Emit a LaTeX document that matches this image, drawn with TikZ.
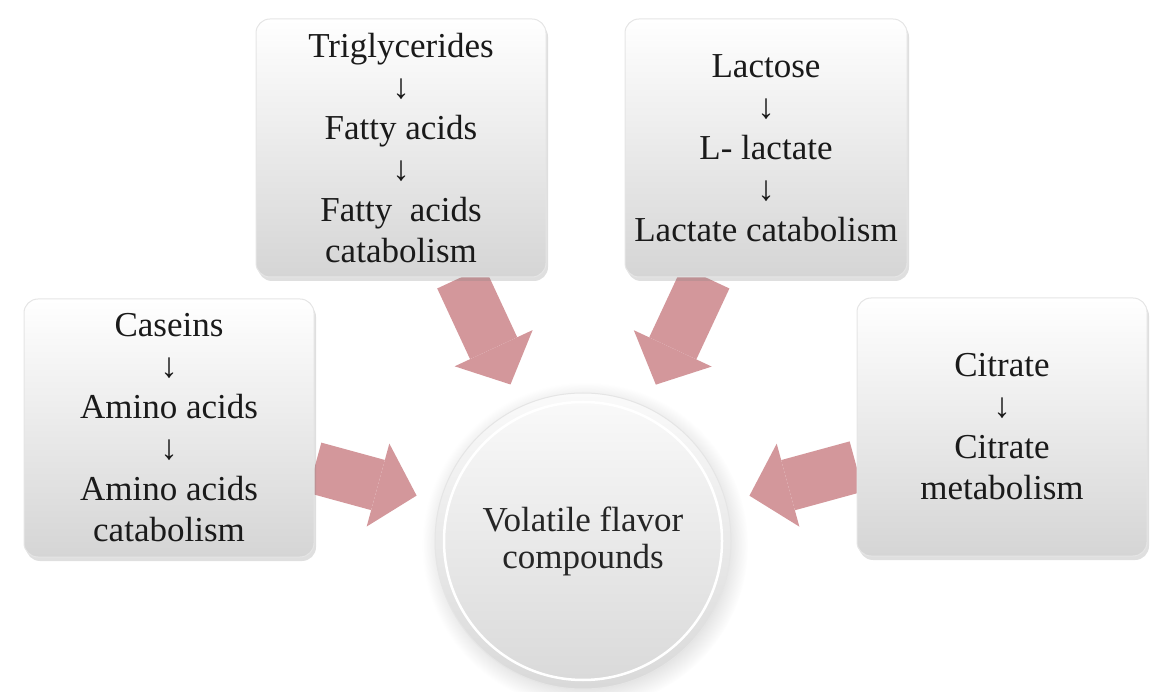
\documentclass[tikz,border=0pt]{standalone}
\usepackage{fontspec}
\setmainfont{Liberation Serif}
\usetikzlibrary{
    arrows.meta,
    positioning,
    shadows,
    backgrounds,
}

\definecolor{rosearrow}{HTML}{D3979B}
\definecolor{boxtext}{HTML}{1A1A1A}
\newcommand{\dn}{{\bfseries ↓}}

\begin{document}
\begin{tikzpicture}[
        x=1pt, y=1pt,
        stepbox/.style={
            rectangle, rounded corners=14pt, draw=gray!20, line width=1pt,
            top color=white, bottom color=gray!33,
            minimum width=290pt, minimum height=258pt,
            align=center, text=boxtext,
            font=\fontsize{35}{41}\selectfont,
            drop shadow={shadow xshift=2pt, shadow yshift=-4pt, opacity=0.25}
        },
        hub/.style={
            circle, draw=gray!20, line width=1pt,
            top color=gray!4, bottom color=gray!30,
            minimum size=296pt, align=center, text=black!85,
            font=\fontsize{35}{37}\selectfont,
            circular drop shadow={shadow xshift=2pt, shadow yshift=-4pt, opacity=0.25},
            path picture={\draw[white, line width=2.5pt]
                (path picture bounding box.center) circle (139pt);}
        },
        fatarrow/.style={
            draw=rosearrow, line width=52pt,
            -{Triangle[width=86pt, length=40pt, line width=0pt]},
            shorten >=24pt
        },
    ]

    \useasboundingbox (0,0) rectangle (1156,691);

    % -- centre --
    \node[hub] (flavor) at (583,150) {Volatile flavor\\compounds};

    % -- pathways --
    \node[stepbox] (amino) at (169,263)
        {Caseins\\\dn\\Amino acids\\\dn\\Amino acids\\catabolism};
    \node[stepbox] (fatty) at (401,543)
        {Triglycerides\\\dn\\Fatty acids\\\dn\\Fatty\ \ acids\\catabolism};
    \node[stepbox, minimum width=282pt] (lactate) at (766,543)
        {Lactose\\\dn\\L- lactate\\\dn\\Lactate catabolism};
    \node[stepbox] (citrate) at (1002,264)
        {Citrate\\\dn\\Citrate\\metabolism};

    % -- arrows --
    \begin{scope}[on background layer]
        \draw[fatarrow] (amino) -- (flavor);
        \draw[fatarrow] (fatty) -- (flavor);
        \draw[fatarrow] (lactate) -- (flavor);
        \draw[fatarrow] (citrate) -- (flavor);
    \end{scope}

\end{tikzpicture}
\end{document}
